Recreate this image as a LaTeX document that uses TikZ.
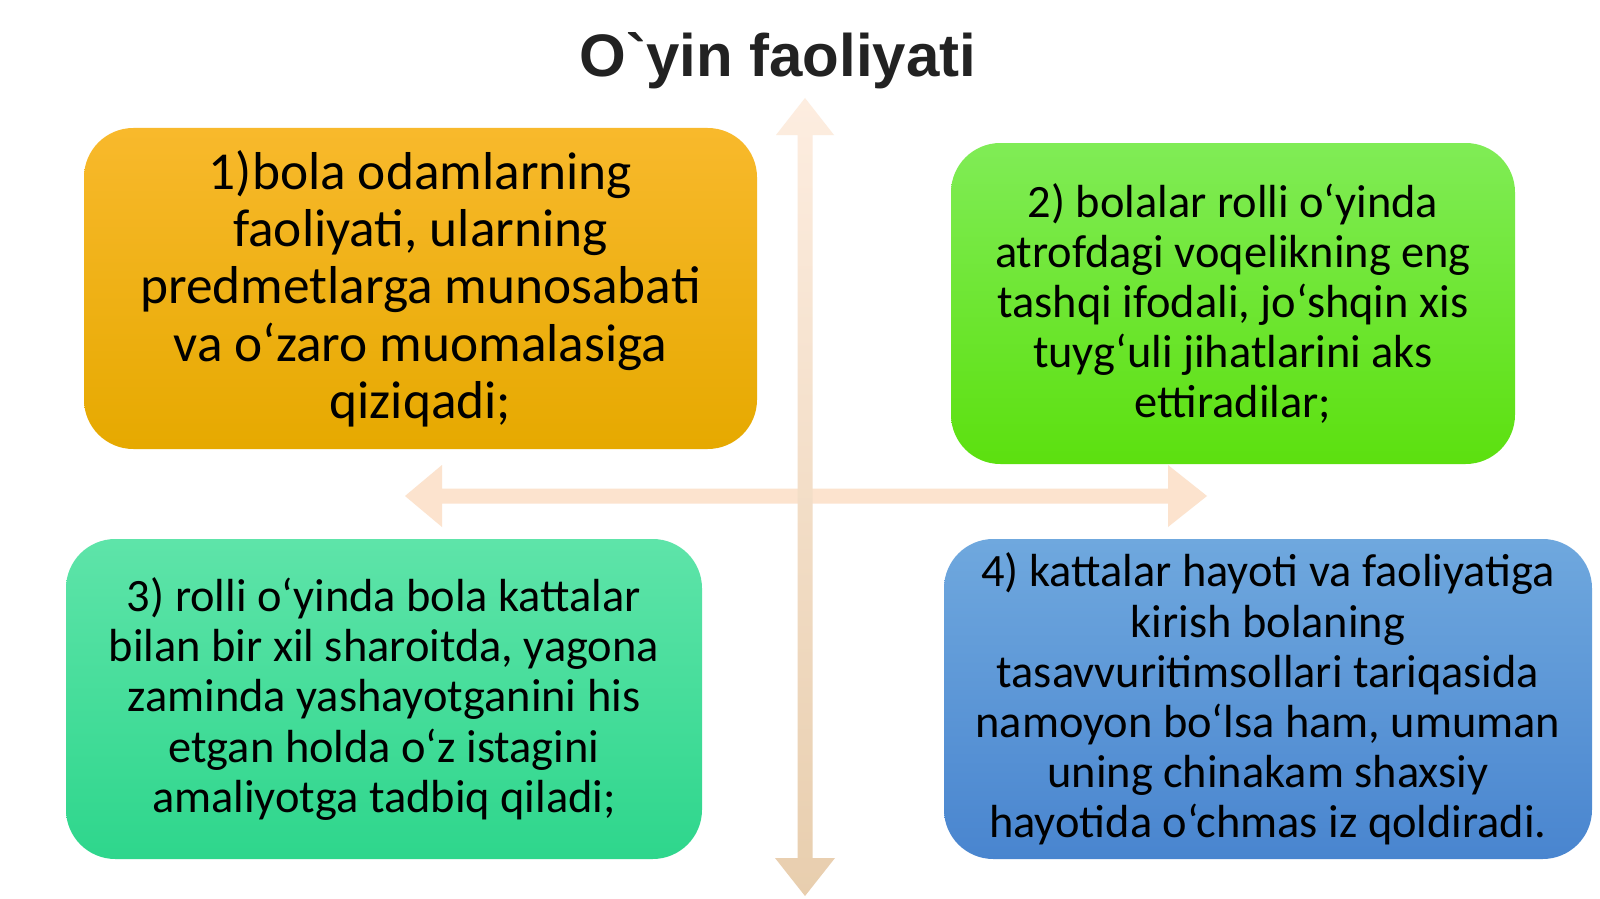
\documentclass[tikz,border=0pt]{standalone}
\usepackage{fontspec}
\setmainfont{Carlito}
\newfontfamily\titlefont{Liberation Sans}
\usetikzlibrary{arrows.meta}
\definecolor{arrV1}{HTML}{FDEDE0}
\definecolor{arrV2}{HTML}{E8CEAE}
\definecolor{arrH}{HTML}{FCE3CE}
\definecolor{b1t}{HTML}{F8B92C}
\definecolor{b1m}{HTML}{FFC10E}
\definecolor{b1b}{HTML}{E6A900}
\definecolor{b2t}{HTML}{80EC56}
\definecolor{b2b}{HTML}{5CE00F}
\definecolor{b3t}{HTML}{5EE4A9}
\definecolor{b3b}{HTML}{2ED68C}
\definecolor{b4t}{HTML}{6FA8DE}
\definecolor{b4b}{HTML}{4985CF}
\definecolor{titlecol}{HTML}{222222}
\tikzset{
  card/.style={rounded corners=37pt, inner sep=0pt, align=center, text=black},
  bigtext/.style={font=\fontsize{40}{43}\selectfont},
  smalltext/.style={font=\fontsize{34.8}{37.6}\selectfont},
}
\begin{document}
\begin{tikzpicture}[x=0.75pt,y=-0.75pt]
\useasboundingbox[fill=white] (0,0) rectangle (1600,899);
% coordinates for the cross
\coordinate (vt) at (805,98);
\coordinate (vb) at (805,896);
\coordinate (hl) at (405,496);
\coordinate (hr) at (1207,496);
% horizontal arrow
\fill[arrH] (hl) -- ++(37,-31) -- ++(0,23.5) -- (1168,488.5) -- ++(0,-23.5) -- (hr)
  -- (1168,527) -- ++(0,-23.5) -- (442,503.5) -- ++(0,23.5) -- cycle;
% vertical arrow
\shade[top color=arrV1, bottom color=arrV2] (vt) -- (834,135) -- (812.5,135) -- (812.5,858)
  -- (835,858) -- (vb) -- (775,858) -- (797.5,858) -- (797.5,135) -- (776,135) -- cycle;
% title
\node[text=titlecol] (title) at (778,61) {\titlefont\bfseries\fontsize{45}{50}\selectfont O\char"60 yin faoliyati};
% boxes
\node[card, bigtext, top color=b1t, middle color=b1m, bottom color=b1b,
      minimum width=504.75pt, minimum height=240.75pt] (b1) at (420.5,288.5)
  {1)bola odamlarning\\ faoliyati, ularning\\ predmetlarga munosabati\\ va o‘zaro muomalasiga\\ qiziqadi;};
\node[card, smalltext, top color=b2t, bottom color=b2b,
      minimum width=423pt, minimum height=240.75pt] (b2) at (1233,303.5)
  {2) bolalar rolli o‘yinda\\ atrofdagi voqelikning eng\\ tashqi ifodali, jo‘shqin xis\\ tuyg‘uli jihatlarini aks\\ ettiradilar;};
\node[card, smalltext, top color=b3t, bottom color=b3b,
      minimum width=477pt, minimum height=240pt] (b3) at (384,699)
  {3) rolli o‘yinda bola kattalar\\ bilan bir xil sharoitda, yagona\\ zaminda yashayotganini his\\ etgan holda o‘z istagini\\ amaliyotga tadbiq qiladi;};
\node[card, smalltext, top color=b4t, bottom color=b4b,
      minimum width=486pt, minimum height=240pt] (b4) at (1268,699)
  {4) kattalar hayoti va faoliyatiga\\ kirish bolaning\\ tasavvuritimsollari tariqasida\\ namoyon bo‘lsa ham, umuman\\ uning chinakam shaxsiy\\ hayotida o‘chmas iz qoldiradi.};
\end{tikzpicture}
\end{document}
